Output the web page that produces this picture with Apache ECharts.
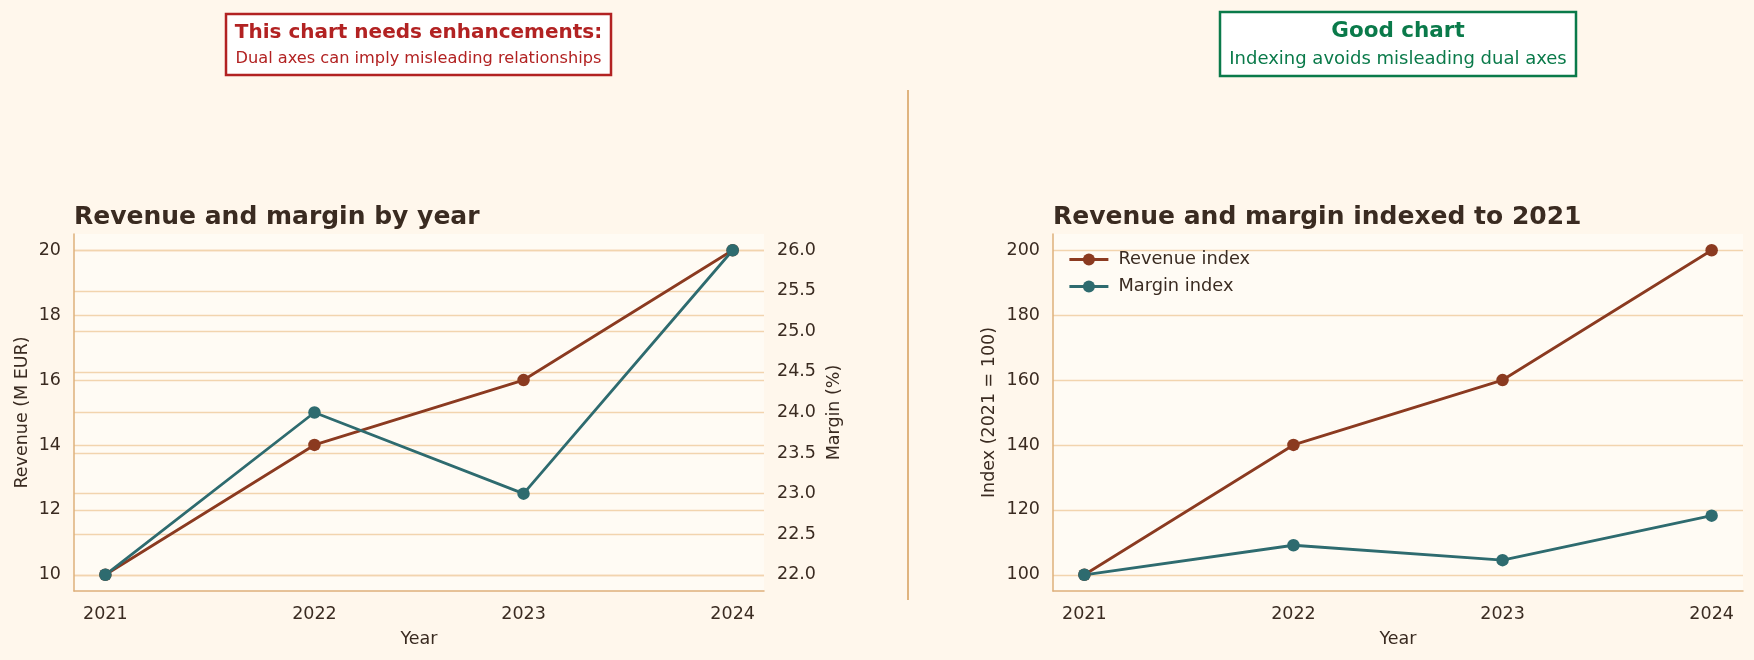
<!DOCTYPE html>
<html>
<head>
<meta charset="utf-8">
<script src="https://cdn.jsdelivr.net/npm/echarts@6/dist/echarts.min.js"></script>
<style>
html, body { margin: 0; padding: 0; background: #fff7ec; }
#main { width: 1754px; height: 660px; }
</style>
</head>
<body>
<div id="main"></div>
<script>
// data
var years = [2021, 2022, 2023, 2024];
var revenue = [10, 14, 16, 20];          // M EUR
var margin = [22.0, 24.0, 23.0, 26.0];   // %
var revenueIndex = [100, 140, 160, 200];
var marginIndex = [100, 109.1, 104.5, 118.2];

var revenueTicks = [10, 12, 14, 16, 18, 20];
var marginTicks = [22.0, 22.5, 23.0, 23.5, 24.0, 24.5, 25.0, 25.5, 26.0];
var indexTicks = [100, 120, 140, 160, 180, 200];

var font = 'DejaVu Sans';
var ink = '#3a2b21';
var spine = '#deb07b';
var grid = '#f2d4ae';
var brown = '#8b3a20';
var teal = '#2e6b6f';

function pairs(xs, ys)
{
	var out = [];
	for (var i = 0; i < xs.length; i++)
	{
		out.push([xs[i], ys[i]]);
	}
	return out;
}

function yearAxis(gridIndex)
{
	return {
		type: 'value',
		gridIndex: gridIndex,
		min: 2020.85,
		max: 2024.15,
		name: 'Year',
		nameLocation: 'middle',
		nameGap: 39,
		nameTextStyle: { fontFamily: font, fontSize: 17.5, color: ink },
		axisLine: { show: true, lineStyle: { color: spine, width: 1.5 } },
		axisTick: { show: false, customValues: years },
		axisLabel: {
			customValues: years,
			margin: 14,
			fontFamily: font, fontSize: 17.5, color: ink,
			formatter: function (v) { return String(v); }
		},
		splitLine: { show: false }
	};
}

function valueAxis(gridIndex, pos, min, max, ticks, name, gap, digits, showLine)
{
	return {
		type: 'value',
		gridIndex: gridIndex,
		position: pos,
		min: min,
		max: max,
		name: name,
		nameLocation: 'middle',
		nameRotate: 90,
		nameGap: gap,
		nameTextStyle: { fontFamily: font, fontSize: 17.5, color: ink },
		axisLine: { show: showLine, lineStyle: { color: spine, width: 1.5 } },
		axisTick: { show: false, customValues: ticks },
		axisLabel: {
			customValues: ticks,
			margin: 13,
			fontFamily: font, fontSize: 17.5, color: ink,
			formatter: function (v) { return v.toFixed(digits); }
		},
		splitLine: { show: true, lineStyle: { color: grid, width: 1.3 } }
	};
}

function lineSeries(name, color, xi, yi, data)
{
	return {
		name: name,
		type: 'line',
		xAxisIndex: xi,
		yAxisIndex: yi,
		data: data,
		symbol: 'circle',
		symbolSize: 12.5,
		lineStyle: { color: color, width: 2.8 },
		itemStyle: { color: color },
		emphasis: { disabled: true }
	};
}

var option = {
	backgroundColor: '#fff7ec',
	animation: false,
	title: [
		{ text: 'Revenue and margin by year', left: 74, top: 205, padding: 0,
			textStyle: { fontFamily: font, fontSize: 25, fontWeight: 'bold', color: ink } },
		{ text: 'Revenue and margin indexed to 2021', left: 1053, top: 205, padding: 0,
			textStyle: { fontFamily: font, fontSize: 25, fontWeight: 'bold', color: ink } }
	],
	grid: [
		{ left: 74, top: 234, width: 690, height: 357, show: true, backgroundColor: '#fffbf4', borderWidth: 0 },
		{ left: 1053, top: 234, width: 690, height: 357, show: true, backgroundColor: '#fffbf4', borderWidth: 0 }
	],
	legend: {
		data: ['Revenue index', 'Margin index'],
		orient: 'vertical',
		left: 1068,
		top: 250.5,
		padding: 0,
		itemWidth: 39,
		itemHeight: 15,
		itemGap: 9,
		lineStyle: { width: 2.8 },
		textStyle: { fontFamily: font, fontSize: 17.8, color: ink, padding: [0, 0, 0, 5] }
	},
	xAxis: [yearAxis(0), yearAxis(1)],
	yAxis: [
		valueAxis(0, 'left', 9.5, 20.5, revenueTicks, 'Revenue (M EUR)', 43, 0, true),
		valueAxis(0, 'right', 21.8, 26.2, marginTicks, 'Margin (%)', 61, 1, false),
		valueAxis(1, 'left', 95, 205, indexTicks, 'Index (2021 = 100)', 55, 0, true)
	],
	series: [
		lineSeries('Revenue', brown, 0, 0, pairs(years, revenue)),
		lineSeries('Margin', teal, 0, 1, pairs(years, margin)),
		lineSeries('Revenue index', brown, 1, 2, pairs(years, revenueIndex)),
		lineSeries('Margin index', teal, 1, 2, pairs(years, marginIndex))
	],
	graphic: [
		// note boxes above the two panels
		{ type: 'rect', shape: { x: 226, y: 14, width: 385, height: 61 },
			style: { fill: '#ffffff', stroke: '#b22222', lineWidth: 2.5 } },
		{ type: 'text', x: 418.5, y: 33,
			style: { text: 'This chart needs enhancements:', fill: '#b22222', font: 'bold 20px "DejaVu Sans"', align: 'center', verticalAlign: 'middle' } },
		{ type: 'text', x: 418.5, y: 59,
			style: { text: 'Dual axes can imply misleading relationships', fill: '#b22222', font: '16.2px "DejaVu Sans"', align: 'center', verticalAlign: 'middle' } },
		{ type: 'rect', shape: { x: 1220, y: 12, width: 356, height: 64 },
			style: { fill: '#ffffff', stroke: '#0a7a4a', lineWidth: 2.5 } },
		{ type: 'text', x: 1398, y: 31,
			style: { text: 'Good chart', fill: '#0a7a4a', font: 'bold 21.5px "DejaVu Sans"', align: 'center', verticalAlign: 'middle' } },
		{ type: 'text', x: 1398, y: 59,
			style: { text: 'Indexing avoids misleading dual axes', fill: '#0a7a4a', font: '18px "DejaVu Sans"', align: 'center', verticalAlign: 'middle' } },
		// divider between panels
		{ type: 'line', shape: { x1: 908, y1: 90, x2: 908, y2: 600 },
			style: { stroke: '#e0b47f', lineWidth: 2 } }
	]
};

var myChart = echarts.init(document.getElementById('main'));
myChart.setOption(option);
</script>
</body>
</html>
